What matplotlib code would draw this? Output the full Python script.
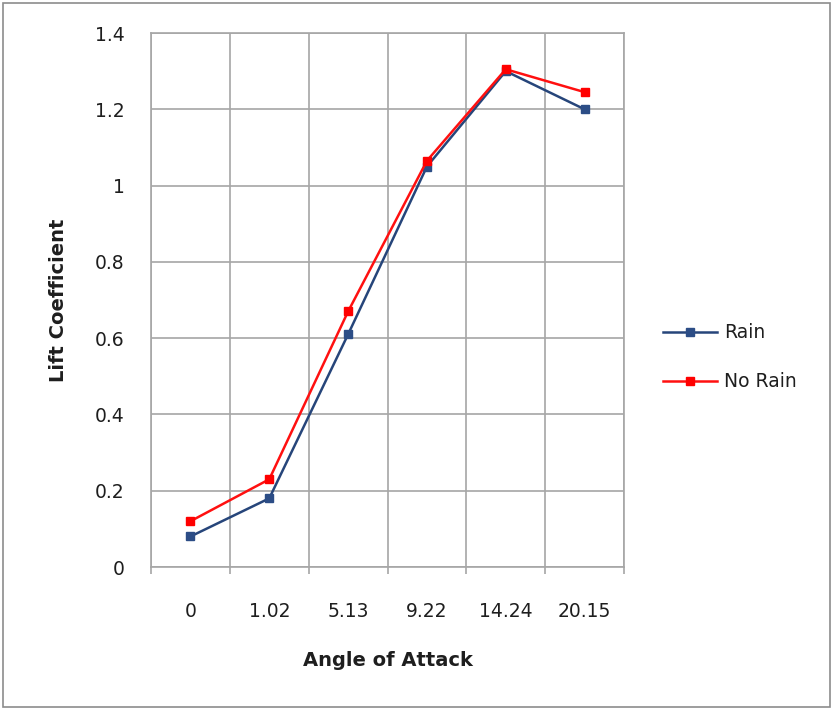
import matplotlib
matplotlib.use("Agg")
import matplotlib.pyplot as plt
from matplotlib.patches import Rectangle
import numpy as np

angles = ["0", "1.02", "5.13", "9.22", "14.24", "20.15"]
rain = [0.08, 0.18, 0.61, 1.05, 1.30, 1.20]
no_rain = [0.12, 0.23, 0.67, 1.065, 1.305, 1.245]
y_ticks = [0, 0.2, 0.4, 0.6, 0.8, 1, 1.2, 1.4]

plt.rcParams["font.family"] = ["DejaVu Sans"]

fig = plt.figure(figsize=(8.33, 7.10), dpi=100)
ax = fig.add_axes([0.1813, 0.2014, 0.5678, 0.7521])

x = np.arange(len(angles))
grid_c = "#a6a6a6"
text_c = "#1e1e1e"

ax.plot(x, rain, color="#26457a", lw=1.8, marker="s", ms=5.5,
        markerfacecolor="#2c4d86", markeredgecolor="#2c4d86", label="Rain", zorder=3)
ax.plot(x, no_rain, color="#ff1010", lw=1.8, marker="s", ms=5.5,
        markerfacecolor="#ff0000", markeredgecolor="#ff0000", label="No Rain", zorder=3)

ax.set_xlim(-0.5, len(angles) - 0.5)
ax.set_ylim(0, 1.4)
ax.set_yticks(y_ticks)
ax.set_yticklabels([f"{v:g}" for v in y_ticks])
ax.set_xticks(x)
ax.set_xticklabels(angles)
ax.set_xticks(np.arange(-0.5, len(angles)), minor=True)

ax.grid(True, axis="y", which="major", color=grid_c, lw=1.2)
ax.grid(True, axis="x", which="minor", color=grid_c, lw=1.2)
ax.grid(False, axis="x", which="major")
ax.set_axisbelow(True)

for s in ax.spines.values():
    s.set_color(grid_c)
    s.set_linewidth(1.2)

ax.tick_params(axis="x", which="major", length=0, pad=25, labelsize=13.5, labelcolor=text_c)
ax.tick_params(axis="x", which="minor", length=5, color=grid_c, width=1.2, direction="out")
ax.tick_params(axis="y", which="major", length=0, pad=19, labelsize=13.5, labelcolor=text_c)

ax.set_xlabel("Angle of Attack", fontsize=14, fontweight="bold", labelpad=22, color=text_c)
ax.set_ylabel("Lift Coefficient", fontsize=14, fontweight="bold", labelpad=19, color=text_c)

leg = ax.legend(loc="center left", bbox_to_anchor=(1.0465, 0.393), frameon=False,
                fontsize=13.5, handlelength=2.9, labelspacing=1.6, handletextpad=0.36)
for t in leg.get_texts():
    t.set_color(text_c)

fig.patches.append(Rectangle((0.004, 0.004), 0.992, 0.992, transform=fig.transFigure,
                             fill=False, edgecolor="#8c8c8c", lw=1.2))

fig.savefig("out.png", dpi=100)
